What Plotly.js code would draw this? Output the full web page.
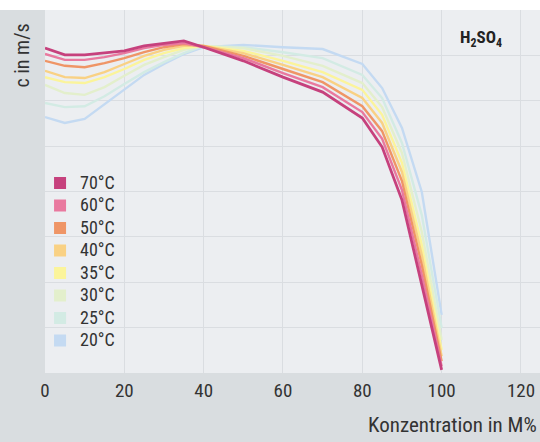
<!DOCTYPE html>
<html><head><meta charset="utf-8">
<script src="https://cdn.plot.ly/plotly-3.0.1.min.js"></script>
<style>html,body{margin:0;padding:0;background:#fff}</style>
</head><body><div id="chart" style="width:540px;height:442px"></div>
<script>
const concentration = [0,5,10,15,20,25,30,35,40,50,60,70,80,85,90,95,100];
const temperatures = ['70°C','60°C','50°C','40°C','35°C','30°C','25°C','20°C'];
const c70 = [1716,1701,1701,1705,1710,1721,1727,1732,1718,1688,1652,1619,1562,1498,1381,1194,1007];
const c60 = [1703,1690,1690,1696,1705,1716,1723,1727,1718,1694,1661,1630,1575,1516,1403,1216,1015];
const c50 = [1688,1677,1674,1683,1694,1707,1718,1725,1721,1699,1670,1641,1588,1533,1423,1238,1026];
const c40 = [1666,1652,1650,1663,1681,1699,1712,1721,1721,1705,1679,1652,1606,1551,1443,1260,1037];
const c35 = [1652,1641,1639,1652,1670,1690,1705,1716,1721,1710,1688,1663,1624,1569,1463,1282,1051];
const c30 = [1635,1617,1613,1630,1655,1679,1696,1712,1721,1716,1699,1677,1639,1586,1485,1311,1073];
const c25 = [1595,1586,1588,1610,1637,1663,1685,1705,1721,1718,1707,1694,1657,1606,1507,1348,1099];
const c20 = [1564,1551,1560,1593,1626,1657,1681,1703,1718,1723,1718,1714,1681,1628,1540,1399,1128];
const xTicks = [0,20,40,60,80,100,120];

const series = [c70,c60,c50,c40,c35,c30,c25,c20];
const colors = ['#c6417d','#e9799f','#ef9566','#f9d184','#fbf49b','#e3efcc','#d3ebe4','#c4daf2'];
const widths = [2.8,2.4,2.4,2.4,2.4,2.4,2.4,2.4];
const FONT = 'Roboto Condensed, Liberation Sans Narrow, DejaVu Sans Condensed, Roboto, sans-serif';

const traces = [];
for (let i = series.length - 1; i >= 0; i--) {
  traces.push({x: concentration, y: series[i], mode: 'lines', showlegend: false,
    line: {color: colors[i], width: widths[i]}, hoverinfo: 'skip'});
}
for (let i = 0; i < series.length; i++) {
  traces.push({x: [null], y: [null], mode: 'markers',
    name: '<span style="font-size:18px">' + temperatures[i] + '</span>',
    marker: {symbol: 'square', size: 12, color: colors[i]}});
}

const layout = {
  width: 540, height: 442,
  margin: {l: 45, r: 0, t: 10, b: 69},
  paper_bgcolor: '#d9dde0',
  plot_bgcolor: '#eceef1',
  font: {family: FONT, color: '#333', size: 18},
  xaxis: {range: [0, 124.8], tickvals: xTicks, ticktext: xTicks.map(String),
    showgrid: true, gridcolor: '#dadde1', gridwidth: 1, zeroline: false,
    showline: false, ticks: '', ticklabelstandoff: 4,
    tickfont: {size: 19, color: '#333', family: FONT}},
  yaxis: {range: [1000, 1800], dtick: 100, tick0: 1000, showticklabels: false,
    showgrid: true, gridcolor: '#dadde1', gridwidth: 1, zeroline: false, ticks: ''},
  legend: {x: -0.01, xanchor: 'left', y: 0.568, yanchor: 'top', bgcolor: 'rgba(0,0,0,0)',
    font: {size: 15, color: '#333', family: FONT}, itemwidth: 30, tracegroupgap: 0},
  shapes: [{type: 'rect', xref: 'paper', yref: 'paper', x0: -0.1, x1: 1.1, y0: 1, y1: 1.04,
    fillcolor: '#ffffff', line: {width: 0}, layer: 'below'}],
  annotations: [
    {text: '<b>H<sub>2</sub>SO<sub>4</sub></b>', xref: 'x', yref: 'paper', x: 109.8, y: 0.958,
      showarrow: false, font: {size: 17, color: '#222', family: FONT}},
    {text: 'Konzentration in M%', xref: 'paper', yref: 'paper', x: 0.997, xanchor: 'right',
      y: -0.143, yanchor: 'middle', showarrow: false, font: {size: 21, color: '#333', family: FONT}},
    {text: 'c in m/s', xref: 'paper', yref: 'paper', x: -0.046, xanchor: 'center', y: 0.875,
      yanchor: 'middle', textangle: -90, showarrow: false, font: {size: 20, color: '#333', family: FONT}}
  ]
};
Plotly.newPlot('chart', traces, layout, {displayModeBar: false, staticPlot: true});
</script></body></html>
